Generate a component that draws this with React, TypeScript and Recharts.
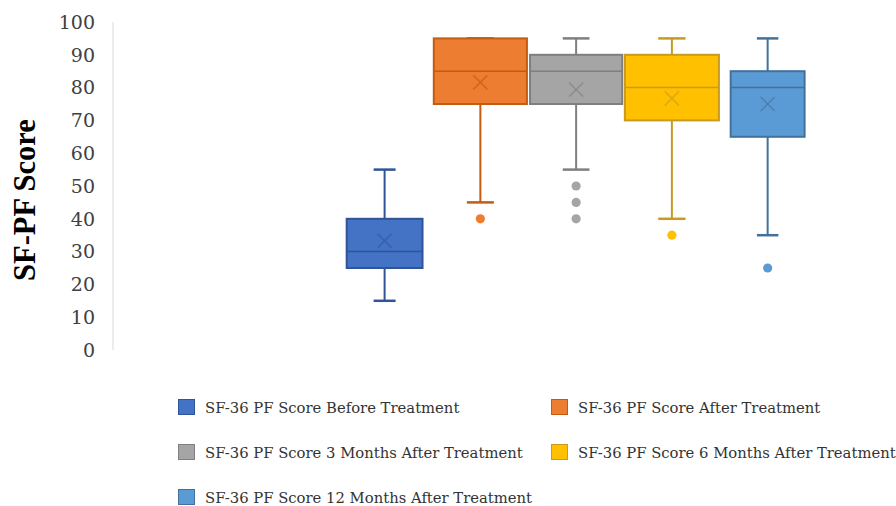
import React from 'react';
import { ComposedChart, Bar, XAxis, YAxis } from 'recharts';

const categories = [
  'SF-36 PF Score Before Treatment',
  'SF-36 PF Score After Treatment',
  'SF-36 PF Score 3 Months After Treatment',
  'SF-36 PF Score 6 Months After Treatment',
  'SF-36 PF Score 12 Months After Treatment',
];
const mins = [15, 45, 55, 40, 35];
const q1s = [25, 75, 75, 70, 65];
const medians = [30, 85, 85, 80, 80];
const q3s = [40, 95, 90, 90, 85];
const maxs = [55, 95, 95, 95, 95];
const means = [33.3, 81.6, 79.4, 76.7, 75.0];
const outliers: number[][] = [[], [40], [50, 45, 40], [35], [25]];
const yTicks = [0, 10, 20, 30, 40, 50, 60, 70, 80, 90, 100];

// styles (not data)
const fills = ['#4472C4', '#ED7D31', '#A5A5A5', '#FFC000', '#5B9BD5'];
const strokes = ['#2F5597', '#C55A11', '#7F7F7F', '#C99A22', '#41719C'];
const boxWidthFactors = [0.79, 0.97, 0.96, 0.98, 0.77];

const data = categories.map((name, i) => ({
  name,
  min: mins[i],
  q1: q1s[i],
  median: medians[i],
  q3: q3s[i],
  max: maxs[i],
  mean: means[i],
  outliers: outliers[i],
}));

const BoxShape = (props: any) => {
  const { x, y, width, height, payload } = props;
  const i = categories.indexOf(payload.name);
  const { min, max } = payload;
  const py = (v: number) => y + (height * (max - v)) / (max - min);
  const cx = x + width / 2;
  const bw = width * boxWidthFactors[i];
  const capW = bw * 0.29;
  const stroke = strokes[i];
  const fill = fills[i];
  const yQ1 = py(payload.q1);
  const yQ3 = py(payload.q3);
  const yMed = py(payload.median);
  const yMin = py(min);
  const yMax = py(max);
  const yMean = py(payload.mean);
  const m = 7;
  return (
    <g>
      <line x1={cx} x2={cx} y1={yMax} y2={yQ3} stroke={stroke} strokeWidth={2} />
      <line x1={cx} x2={cx} y1={yQ1} y2={yMin} stroke={stroke} strokeWidth={2} />
      <line x1={cx - capW / 2} x2={cx + capW / 2} y1={yMax} y2={yMax} stroke={stroke} strokeWidth={2.5} />
      <line x1={cx - capW / 2} x2={cx + capW / 2} y1={yMin} y2={yMin} stroke={stroke} strokeWidth={2.5} />
      <rect x={cx - bw / 2} y={yQ3} width={bw} height={yQ1 - yQ3} fill={fill} stroke={stroke} strokeWidth={2} />
      <line x1={cx - bw / 2} x2={cx + bw / 2} y1={yMed} y2={yMed} stroke={stroke} strokeWidth={1.5} />
      <g stroke={stroke} strokeWidth={1.6} opacity={0.6}>
        <line x1={cx - m} y1={yMean - m} x2={cx + m} y2={yMean + m} />
        <line x1={cx - m} y1={yMean + m} x2={cx + m} y2={yMean - m} />
      </g>
      {payload.outliers.map((o: number, k: number) => (
        <circle key={k} cx={cx} cy={py(o)} r={4.6} fill={fill} />
      ))}
    </g>
  );
};

const YLabel = (props: any) => {
  const vb = props.viewBox || { x: 0, y: 22, width: 113, height: 328 };
  const lx = vb.x + 25;
  const ly = vb.y + vb.height / 2 + 14;
  return (
    <text
      x={lx}
      y={ly}
      transform={`rotate(-90 ${lx} ${ly})`}
      textAnchor="middle"
      dominantBaseline="central"
      fontFamily="'Liberation Serif', serif"
      fontWeight="bold"
      fontSize={30.5}
      fill="#000"
    >
      SF-PF Score
    </text>
  );
};

const legendCols = [178, 551];
const legendRows = [407, 452, 497];

export default function App() {
  return (
    <div style={{ position: 'absolute', left: 0, top: 0, width: 896, height: 506, background: '#fff' }}>
      <ComposedChart
        width={896}
        height={506}
        data={data}
        margin={{ top: 22, right: 0, bottom: 156, left: 0 }}
        barCategoryGap={0}
        barGap={0}
      >
        <XAxis dataKey="name" hide padding={{ left: 223.6, right: 80.6 }} />
        <YAxis
          domain={[0, 100]}
          ticks={yTicks}
          interval={0}
          width={113}
          axisLine={{ stroke: '#D9D9D9', strokeWidth: 1 }}
          tickLine={false}
          tickSize={6}
          tickMargin={12}
          tick={{ fontFamily: "'DejaVu Serif', serif", fontSize: 19, fill: '#404040' }}
          label={<YLabel />}
        />
        <Bar
          dataKey={(d: any) => [d.min, d.max]}
          shape={<BoxShape />}
          isAnimationActive={false}
        />
      </ComposedChart>
      {categories.map((name, i) => {
        const col = legendCols[i % 2];
        const row = legendRows[Math.floor(i / 2)];
        return (
          <div
            key={name}
            style={{
              position: 'absolute',
              left: col,
              top: row - 10,
              height: 20,
              display: 'flex',
              alignItems: 'center',
              whiteSpace: 'nowrap',
            }}
          >
            <div
              style={{
                width: 15,
                height: 14,
                background: fills[i],
                border: `1px solid ${strokes[i]}`,
                marginRight: 10,
              }}
            />
            <span
              style={{
                fontFamily: "'DejaVu Serif', serif",
                fontSize: 14.8,
                color: '#333',
              }}
            >
              {name}
            </span>
          </div>
        );
      })}
    </div>
  );
}
